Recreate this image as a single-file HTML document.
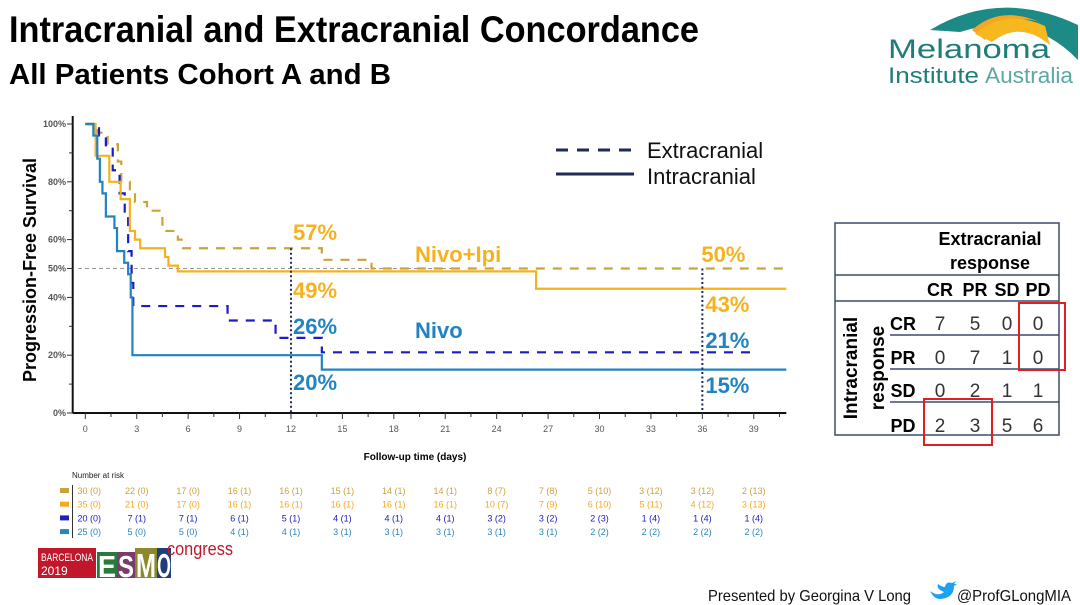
<!DOCTYPE html>
<html><head><meta charset="utf-8"><style>
html,body{margin:0;padding:0;background:#fff;width:1080px;height:605px;overflow:hidden}
svg{display:block;font-family:"Liberation Sans",Arial,sans-serif}
</style></head><body>
<svg id="slide" width="1080" height="605" viewBox="0 0 1080 605">
<g>
<text x="9" y="42" font-size="37" font-weight="bold" textLength="690" lengthAdjust="spacingAndGlyphs">Intracranial and Extracranial Concordance</text>
<text x="9" y="84" font-size="29" font-weight="bold" textLength="382" lengthAdjust="spacingAndGlyphs">All Patients Cohort A and B</text>
</g>
<g>
<path d="M930 30 Q1000 -12 1078 25 L1078 60 Q1030 10 960 32 Z" fill="#1d8a86"/>
<path d="M972 30 Q1000 5 1040 22 Q1010 12 985 40 Z" fill="#f5a623"/>
<path d="M975 34 Q1005 8 1045 26 L1050 45 Q1020 20 992 42 Z" fill="#f7b81f"/>
<text x="888" y="58" font-size="27" fill="#1f7d79" textLength="162" lengthAdjust="spacingAndGlyphs">Melanoma</text>
<text x="888" y="83" font-size="22" fill="#1f7d79" textLength="91" lengthAdjust="spacingAndGlyphs">Institute</text>
<text x="985" y="83" font-size="22" fill="#5aa9a2" textLength="88" lengthAdjust="spacingAndGlyphs">Australia</text>
</g>
<g id="chart"></g>
<g>
<line x1="556" y1="150" x2="632" y2="150" stroke="#1f2a55" stroke-width="3" stroke-dasharray="12,9"/>
<text x="647" y="158" font-size="22" fill="#111">Extracranial</text>
<line x1="556" y1="174" x2="634" y2="174" stroke="#1f2a55" stroke-width="3"/>
<text x="647" y="184" font-size="22" fill="#111">Intracranial</text>
</g>
<g font-size="19">
<rect x="835" y="223" width="224" height="212" fill="none" stroke="#3b4a6b" stroke-width="1.5"/>
<line x1="835" y1="275" x2="1059" y2="275" stroke="#3b4a6b" stroke-width="1.5"/>
<line x1="835" y1="301" x2="1059" y2="301" stroke="#3b4a6b" stroke-width="1.5"/>
<line x1="890" y1="335" x2="1059" y2="335" stroke="#3b4a6b" stroke-width="1.5"/>
<line x1="890" y1="369" x2="1059" y2="369" stroke="#3b4a6b" stroke-width="1.5"/>
<line x1="890" y1="402" x2="1059" y2="402" stroke="#3b4a6b" stroke-width="1.5"/>
<text x="990" y="245" font-weight="bold" font-size="18" text-anchor="middle">Extracranial</text>
<text x="990" y="269" font-weight="bold" font-size="18" text-anchor="middle">response</text>
<text transform="translate(857,368) rotate(-90)" font-weight="bold" font-size="19" text-anchor="middle">Intracranial</text>
<text transform="translate(884,368) rotate(-90)" font-weight="bold" font-size="19" text-anchor="middle">response</text>
<g id="tbl"></g>
<rect x="1019" y="303" width="46" height="67" fill="none" stroke="#e02020" stroke-width="2"/>
<rect x="924" y="399" width="68" height="46" fill="none" stroke="#e02020" stroke-width="2"/>
</g>
<g>
<rect x="38" y="548" width="58" height="30" fill="#c0182a"/>
<text x="41" y="561" font-size="11" fill="#fff" textLength="52" lengthAdjust="spacingAndGlyphs">BARCELONA</text>
<text x="41" y="575" font-size="12" fill="#fff">2019</text>
<rect x="97" y="552" width="20" height="26" fill="#2a7a3a"/><text x="98" y="577" font-size="31" font-weight="bold" fill="#fff" textLength="18" lengthAdjust="spacingAndGlyphs">E</text>
<rect x="117" y="552" width="18" height="26" fill="#7a3a6a"/><text x="118" y="577" font-size="31" font-weight="bold" fill="#fff" textLength="16" lengthAdjust="spacingAndGlyphs">S</text>
<rect x="135" y="548" width="22" height="30" fill="#8a8a2a"/><text x="136" y="577" font-size="33" font-weight="bold" fill="#fff" textLength="20" lengthAdjust="spacingAndGlyphs">M</text>
<rect x="157" y="548" width="14" height="30" fill="#1f3e7a"/><text x="157" y="577" font-size="33" font-weight="bold" fill="#fff" textLength="14" lengthAdjust="spacingAndGlyphs">O</text>
<text x="167" y="555" font-size="18" fill="#c0182a" textLength="66" lengthAdjust="spacingAndGlyphs">congress</text>
</g>
<text x="708" y="601" font-size="16" fill="#111" textLength="203" lengthAdjust="spacingAndGlyphs">Presented by Georgina V Long</text>
<path d="M930 591 q8 6 14 1 q-8 -3 -6 -8 q4 3 7 3 q1 -6 7 -4 l4 -2 -2 3 3 0 -3 2 q0 12 -14 13 q-6 0 -10 -8z" fill="#1da1f2"/>
<text x="957" y="601" font-size="16" fill="#111" textLength="114" lengthAdjust="spacingAndGlyphs">@ProfGLongMIA</text>
</svg>
<script>
// ---- chart data ----
const xTicks = [0,3,6,9,12,15,18,21,24,27,30,33,36,39];
const yTicks = [0,20,40,50,60,80,100];
const yMinorTicks = [10,30,70,90];
const ipiExtraTimes = [0.7,1.3,1.9,2.1,2.6,2.9,3.6,4.5,5.4,5.7,13.8,16.7];
const ipiExtraValues = [97,93,87,80,77,73,70,63,60,57,53,50];
const ipiIntraTimes = [0.6,1.4,2.06,2.6,2.9,3.2,4.65,4.85,5.4,26.3];
const ipiIntraValues = [89,80,74,63,60,57,54,51,49,43];
const nivoExtraTimes = [0.8,1.2,1.6,2.0,2.3,2.5,2.7,2.8,8.3,11.1,13.8];
const nivoExtraValues = [96,92,84,76,68,56,45,37,32,26,21];
const nivoIntraTimes = [0.47,0.7,0.85,1.0,1.2,1.7,1.85,2.27,2.5,2.65,2.75,13.8];
const nivoIntraValues = [96,88,80,76,68,64,56,52,48,40,20,15];
const landmarkMonths = [12,36];
const landmarkLabels12 = ["57%","49%","26%","20%"];
const landmarkLabels36 = ["50%","43%","21%","15%"];
const riskIpiExtra = ["30 (0)","22 (0)","17 (0)","16 (1)","16 (1)","15 (1)","14 (1)","14 (1)","8 (7)","7 (8)","5 (10)","3 (12)","3 (12)","2 (13)"];
const riskIpiIntra = ["35 (0)","21 (0)","17 (0)","16 (1)","16 (1)","16 (1)","16 (1)","16 (1)","10 (7)","7 (9)","6 (10)","5 (11)","4 (12)","3 (13)"];
const riskNivoExtra = ["20 (0)","7 (1)","7 (1)","6 (1)","5 (1)","4 (1)","4 (1)","4 (1)","3 (2)","3 (2)","2 (3)","1 (4)","1 (4)","1 (4)"];
const riskNivoIntra = ["25 (0)","5 (0)","5 (0)","4 (1)","4 (1)","3 (1)","3 (1)","3 (1)","3 (1)","3 (1)","2 (2)","2 (2)","2 (2)","2 (2)"];
const tableCols = ["CR","PR","SD","PD"];
const tableRows = ["CR","PR","SD","PD"];
const tableValues = [[7,5,0,0],[0,7,1,0],[0,2,1,1],[2,3,5,6]];

const NS="http://www.w3.org/2000/svg";
const xs = m => 85.3 + m*17.14;
const ys = p => 413 - p*2.89;
const XMAX = 40.9;
const chart = document.getElementById('chart');
function mk(tag, attrs, parent, txt){
  const e=document.createElementNS(NS,tag);
  for(const k in attrs) e.setAttribute(k,attrs[k]);
  if(txt!==undefined) e.textContent=txt;
  (parent||chart).appendChild(e); return e;
}
let a = mk('line',{x1:72.7,y1:ys(100)-8,x2:72.7,y2:413,stroke:'#111','stroke-width':2});


a = mk('line',{x1:72.7,y1:413,x2:xs(XMAX),y2:413,stroke:'#111','stroke-width':2});


yTicks.forEach(v=>{
  mk('line',{x1:67,y1:ys(v),x2:72.7,y2:ys(v),stroke:'#333','stroke-width':1});
  const t=mk('text',{x:66,y:ys(v)+3,'font-size':9,'font-weight':'bold',fill:'#555','text-anchor':'end'},chart,v+'%');
  
  
});
yMinorTicks.forEach(v=>mk('line',{x1:69,y1:ys(v),x2:72.7,y2:ys(v),stroke:'#333','stroke-width':1}));
for(let m=0;m<=XMAX;m+=1.5) mk('line',{x1:xs(m),y1:413,x2:xs(m),y2:m%3===0?419:417,stroke:'#333','stroke-width':1});
xTicks.forEach(m=>{
  const t=mk('text',{x:xs(m),y:432,'font-size':9,fill:'#555','text-anchor':'middle'},chart,String(m));
  
  
});
let t=mk('text',{x:415,y:460,'font-size':10,'font-weight':'bold','text-anchor':'middle'},chart,'Follow-up time (days)');


t=mk('text',{transform:'translate(36,270) rotate(-90)','font-size':18,'font-weight':'bold','text-anchor':'middle'},chart,'Progression-Free Survival');


a=mk('line',{x1:78,y1:ys(50),x2:xs(22),y2:ys(50),stroke:'#999','stroke-width':1,'stroke-dasharray':'4,3'});


function curve(times, vals, end, color, dash, name){
  let d='M'+xs(0)+' '+ys(100);
  times.forEach((tm,i)=>{ d+=' H'+xs(tm)+' V'+ys(vals[i]); });
  d+=' H'+xs(end);
  const p=mk('path',{d:d,fill:'none',stroke:color,'stroke-width':2.2,'stroke-dasharray':dash||'none'});
  
  
}
curve(ipiExtraTimes,ipiExtraValues,XMAX,'#c9a43c','9,8','nivo-ipi-extracranial-curve');
curve(nivoExtraTimes,nivoExtraValues,39,'#1c1cc4','9,8','nivo-extracranial-curve');
curve(ipiIntraTimes,ipiIntraValues,XMAX,'#f6b21e',null,'nivo-ipi-intracranial-curve');
curve(nivoIntraTimes,nivoIntraValues,XMAX,'#2283c2',null,'nivo-intracranial-curve');
function survAt(times,vals,m){let v=100;times.forEach((tm,i)=>{if(tm<=m)v=vals[i];});return v;}
landmarkMonths.forEach(m=>{
  const top=Math.max(survAt(ipiExtraTimes,ipiExtraValues,m),survAt(ipiIntraTimes,ipiIntraValues,m));
  const l=mk('line',{x1:xs(m),y1:ys(top),x2:xs(m),y2:413,stroke:'#1f2a55','stroke-width':2,'stroke-dasharray':'2,2.5'});
  
  
});
const labY=[240,298,334,390], labC=['#f6b21e','#f6b21e','#2283c2','#2283c2'];
landmarkLabels12.forEach((s,i)=>{
  const e=mk('text',{x:xs(12)+2,y:labY[i],'font-size':22,'font-weight':'bold',fill:labC[i]},chart,s);
  
  
});
const labY36=[262,312,348,393];
landmarkLabels36.forEach((s,i)=>{
  const e=mk('text',{x:xs(36)+(i===0?-1:3),y:labY36[i],'font-size':22,'font-weight':'bold',fill:labC[i]},chart,s);
  
  
});
t=mk('text',{x:415,y:262,'font-size':22,'font-weight':'bold',fill:'#f6b21e'},chart,'Nivo+Ipi');


t=mk('text',{x:415,y:338,'font-size':22,'font-weight':'bold',fill:'#2283c2'},chart,'Nivo');


t=mk('text',{x:72,y:478,'font-size':8,fill:'#222'},chart,'Number at risk');


mk('line',{x1:72.5,y1:485,x2:72.5,y2:538,stroke:'#333','stroke-width':1});
const riskRows=[riskIpiExtra,riskIpiIntra,riskNivoExtra,riskNivoIntra];
const riskColors=['#c9a43c','#f6a81e','#2020c0','#2a86b8'];
riskRows.forEach((row,r)=>{
  const y=494+r*13.7;
  mk('rect',{x:60,y:y-6,width:9,height:5,fill:riskColors[r]});
  row.forEach((s,i)=>{
    const e=mk('text',{x:xs(xTicks[i])+(i===0?4:0),y:y,'font-size':9,fill:riskColors[r],'text-anchor':'middle'},chart,s);
    
    
  });
});
const tbl=document.getElementById('tbl');
const colX=[940,975,1007,1038], rowY=[323,357,390,425];
tableCols.forEach((c,i)=>{
  const e=mk('text',{x:colX[i],y:296,'font-weight':'bold','font-size':18,'text-anchor':'middle'},tbl,c);
  
  
});
tableRows.forEach((rw,r)=>{
  const e=mk('text',{x:903,y:rowY[r]+7,'font-weight':'bold','font-size':18,'text-anchor':'middle'},tbl,rw);
  
  
  tableValues[r].forEach((v,c)=>{
    const n=mk('text',{x:colX[c],y:rowY[r]+7,'font-size':19,fill:'#333','text-anchor':'middle'},tbl,String(v));
    
    
  });
});
</script>
</body></html>
